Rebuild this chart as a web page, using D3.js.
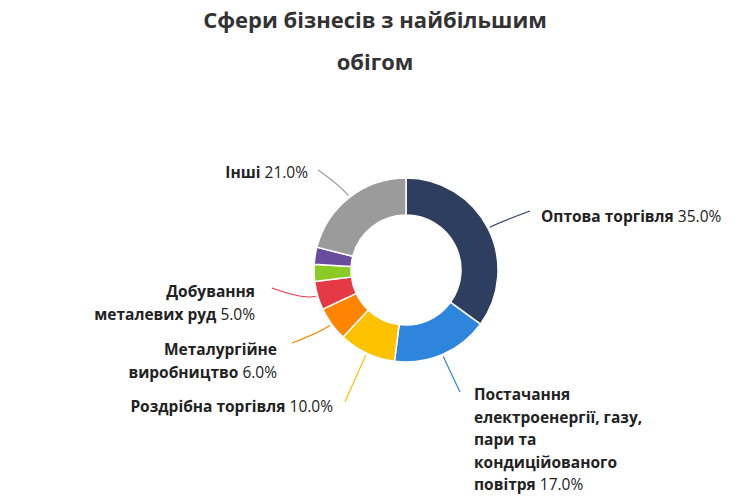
<!DOCTYPE html>
<html><head><meta charset="utf-8">
<script src="https://cdn.jsdelivr.net/npm/d3@7"></script>
<style>body{margin:0;background:#fff;font-family:"Open Sans",sans-serif}</style>
</head><body><svg id="c" width="750" height="497"></svg>
<script>
// data
const categories = ["Оптова торгівля","Постачання електроенергії, газу, пари та кондиційованого повітря","Роздрібна торгівля","Металургійне виробництво","Добування металевих руд","Інше A","Інше B","Інші"];
const values = [35, 17, 10, 6, 5, 3, 3, 21];
const colors = ["#2e3e5f","#2d86dc","#fdc100","#fd8501","#e63946","#8ccb25","#6a4c9c","#9b9b9b"];
// label lines (bold part, normal part per line)
const labelLines = [
  [["Оптова торгівля"," 35.0%"]],
  [["Постачання",""],["електроенергії, газу,",""],["пари та",""],["кондиційованого",""],["повітря"," 17.0%"]],
  [["Роздрібна торгівля"," 10.0%"]],
  [["Металургійне",""],["виробництво"," 6.0%"]],
  [["Добування",""],["металевих руд"," 5.0%"]],
  null, null,
  [["Інші"," 21.0%"]]
];
const labelPos = [
  {x:541,y:222,a:"start",end:[530,211]},
  {x:474,y:400,a:"start",end:[460,392]},
  {x:333,y:412,a:"end",end:[345,402]},
  {x:277,y:355,a:"end",end:[292,343]},
  {x:255,y:297,a:"end",end:[272,288]},
  null,null,
  {x:308,y:178,a:"end",end:[318,170]}
];

const svg = d3.select("#c");
const cx = 406, cy = 270, R = 92, r0 = 55;

svg.append("text").attr("x",375).attr("y",28).attr("text-anchor","middle")
  .attr("font-size",22).attr("font-weight","bold").attr("fill","#333").text("Сфери бізнесів з найбільшим");
svg.append("text").attr("x",375).attr("y",70).attr("text-anchor","middle")
  .attr("font-size",22).attr("font-weight","bold").attr("fill","#333").text("обігом");

const pie = d3.pie().sort(null)(values);
const arc = d3.arc().innerRadius(r0).outerRadius(R);
const g = svg.append("g").attr("transform",`translate(${cx},${cy})`);
g.selectAll("path").data(pie).join("path")
  .attr("d",arc).attr("fill",(d,i)=>colors[i]).attr("stroke","#fff").attr("stroke-width",1.5);

pie.forEach((d,i)=>{
  const p = labelPos[i];
  if(!p) return;
  const mid = (d.startAngle+d.endAngle)/2;
  const sx = cx + Math.sin(mid)*(R+2), sy = cy - Math.cos(mid)*(R+2);
  const kx = cx + Math.sin(mid)*(R+14), ky = cy - Math.cos(mid)*(R+14);
  svg.append("path").attr("d",`M${sx},${sy}Q${kx},${ky} ${p.end[0]},${p.end[1]}`)
    .attr("fill","none").attr("stroke",colors[i]).attr("stroke-width",1.2);
  labelLines[i].forEach((ln,j)=>{
    const t = svg.append("text").attr("x",p.x).attr("y",p.y+j*22.5)
      .attr("text-anchor",p.a).attr("font-size",15.5).attr("fill","#222");
    t.append("tspan").attr("font-weight","bold").text(ln[0]);
    if(ln[1]) t.append("tspan").text(ln[1]);
  });
});
</script></body></html>
